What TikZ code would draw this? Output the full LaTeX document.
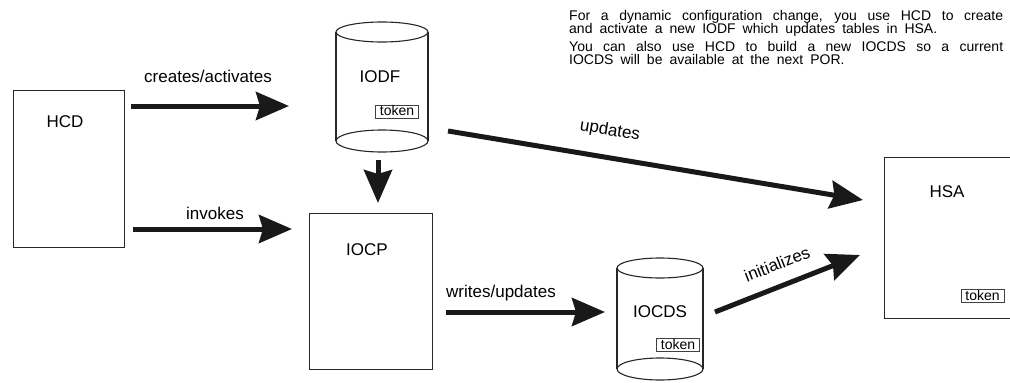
\documentclass[tikz,border=0pt]{standalone}
\usepackage{fontspec}
\setmainfont{Liberation Sans}
\usetikzlibrary{arrows.meta}
\newcommand{\wsp}{\spaceskip=0.5em plus 1em minus 0.1em\relax}
\begin{document}
\begin{tikzpicture}[x=1pt,y=-1pt,
  box/.style={draw=black!85,line width=1.1pt},
  lbl/.style={font=\fontsize{17}{19}\selectfont, inner sep=0pt},
  tok/.style={draw=black!75,line width=0.8pt,inner sep=0pt,font=\fontsize{14}{14}\selectfont,
    minimum width=43pt, minimum height=13pt, text height=10pt, text depth=2pt},
  bigarrow/.style={line width=5pt, draw=black!90, -{Stealth[length=33pt,width=28pt,inset=4pt]}},
  note/.style={anchor=north west, inner sep=0pt, text width=434pt, align=justify,
    font=\fontsize{14}{13.5}\selectfont}
]
\useasboundingbox (0,0) rectangle (1010,383);

% boxes
\node[box, anchor=north west, minimum width=111pt, minimum height=157pt, inner sep=0pt] (hcd) at (13,90) {};
\node[lbl] (hcdl) at (65,122) {HCD};
\node[box, anchor=north west, minimum width=123pt, minimum height=156pt, inner sep=0pt] (iocp) at (309,213) {};
\node[lbl] (iocpl) at (367,250) {IOCP};
\node[box, anchor=north west, minimum width=131pt, minimum height=161pt, inner sep=0pt] (hsa) at (884,157) {};
\node[lbl] (hsal) at (947,192) {HSA};
\node[tok] (hsat) at (982.5,296) {token};

% IODF cylinder
\draw[box] (382,32) ellipse [x radius=46, y radius=10];
\draw[box] (382,141) ellipse [x radius=46, y radius=11];
\draw[box] (336,32) -- (336,141) (428,32) -- (428,141);
\node[lbl] (iodfl) at (380,77) {IODF};
\node[tok] (iodft) at (397,111.5) {token};

% IOCDS cylinder
\draw[box] (660,268) ellipse [x radius=43, y radius=10];
\draw[box] (660,369) ellipse [x radius=43, y radius=11];
\draw[box] (617,268) -- (617,369) (703,268) -- (703,369);
\node[lbl] (iocdsl) at (660,312) {IOCDS};
\node[tok] (iocdst) at (678,345) {token};

% arrow end points
\coordinate (a1s) at (131,106); \coordinate (a1e) at (289,106);
\coordinate (a2s) at (133,229); \coordinate (a2e) at (292,229);
\coordinate (a3s) at (378,160); \coordinate (a3e) at (378,203);
\coordinate (a4s) at (446,312); \coordinate (a4e) at (605,312);
\coordinate (a5s) at (715,312); \coordinate (a5e) at (860,255);
\coordinate (a6s) at (448,131); \coordinate (a6e) at (863,200);

\draw[bigarrow] (a1s) -- (a1e);
\draw[bigarrow] (a2s) -- (a2e);
\draw[bigarrow] (a3s) -- (a3e);
\draw[bigarrow] (a4s) -- (a4e);
\draw[bigarrow] (a5s) -- (a5e);
\draw[bigarrow] (a6s) -- (a6e);

\node[lbl] (l1) at (208,76) {creates/activates};
\node[lbl] (l2) at (215,213) {invokes};
\node[lbl] (l4) at (501,293) {writes/updates};
\node[lbl, rotate=21.5] (l5) at (777,264) {initializes};
\node[lbl, rotate=-9.4] (l6) at (610,131) {updates};

% note text
\node[note] (n1) at (569,10) {\wsp For a dynamic configuration change, you use HCD to create\linebreak and activate a new IODF which updates tables in HSA.};
\node[note] (n2) at (569,41) {\wsp You can also use HCD to build a new IOCDS so a current\linebreak IOCDS will be available at the next POR.};
\end{tikzpicture}
\end{document}
